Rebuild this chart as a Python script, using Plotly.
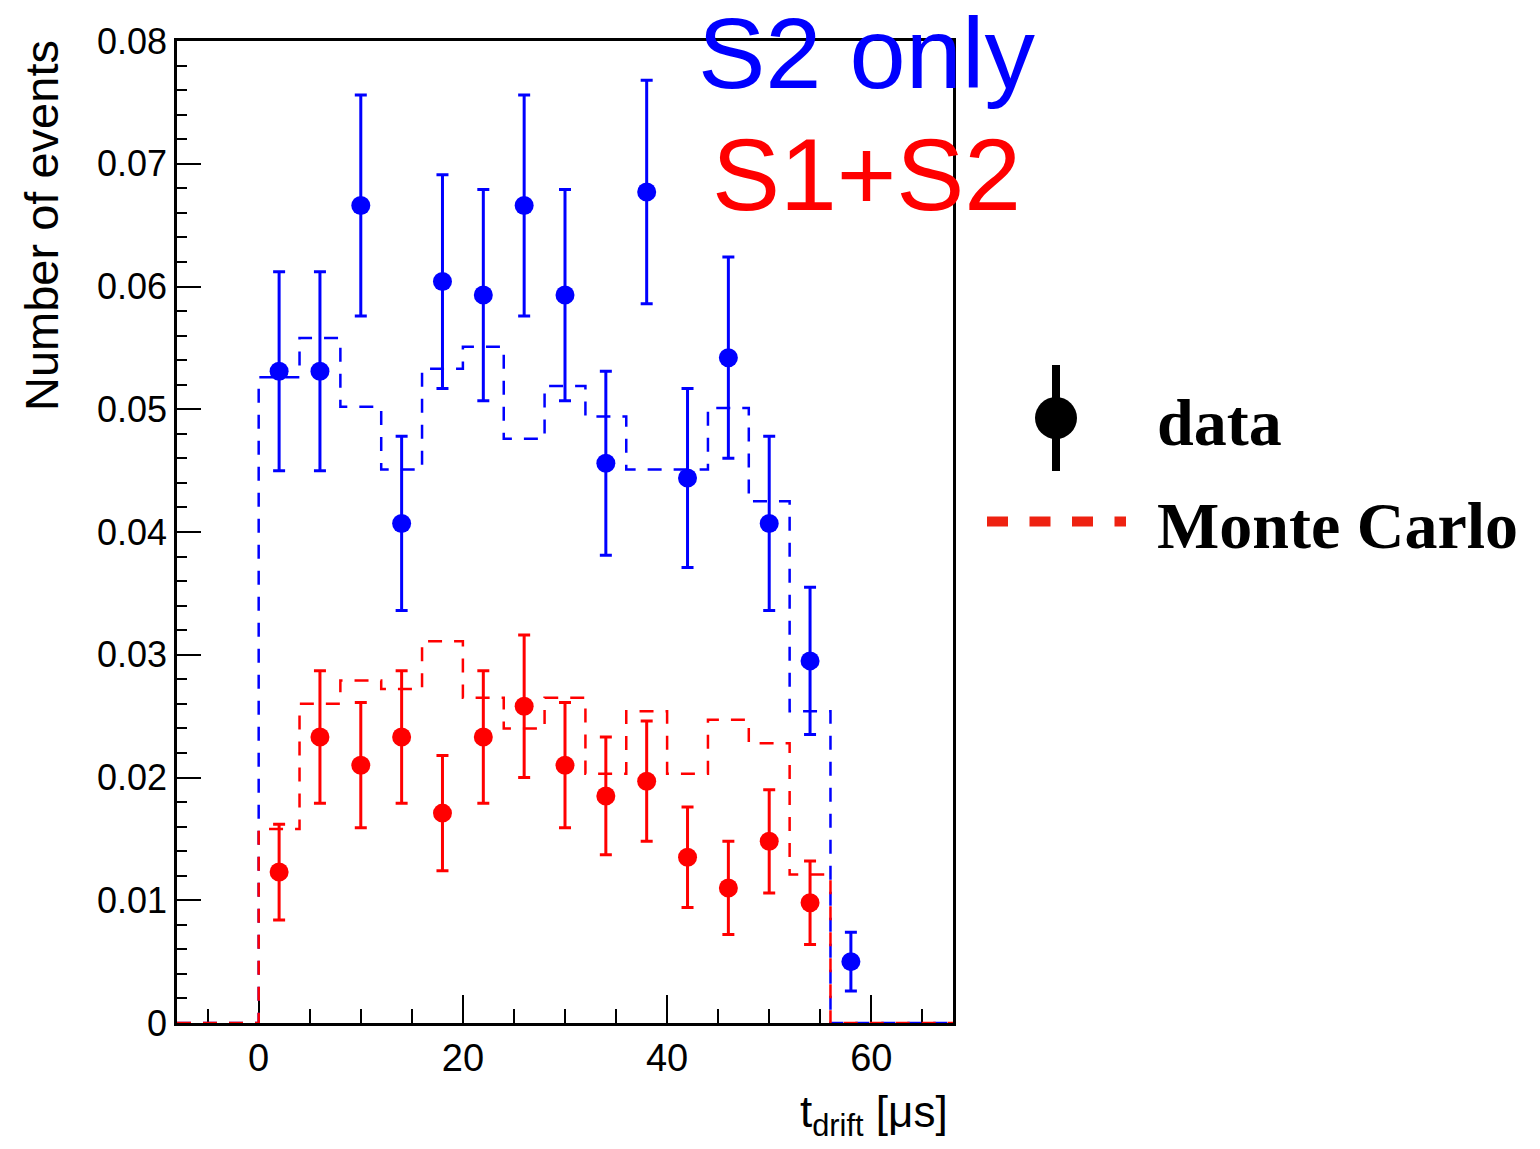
import plotly.graph_objects as go

# ---- drift-time spectra (4 us bins) ----
bin_edges = [0, 4, 8, 12, 16, 20, 24, 28, 32, 36, 40, 44, 48, 52, 56]
x_min, x_max = -8, 68

# measured data, bin centres
s2_centres = [2, 6, 10, 14, 18, 22, 26, 30, 34, 38, 42, 46, 50, 54, 58]
s2_data = [0.0531, 0.0531, 0.0666, 0.0407, 0.0604, 0.0593, 0.0666, 0.0593,
           0.0456, 0.0677, 0.0444, 0.0542, 0.0407, 0.0295, 0.0050]
s2_err = [0.0081, 0.0081, 0.0090, 0.0071, 0.0087, 0.0086, 0.0090, 0.0086,
          0.0075, 0.0091, 0.0073, 0.0082, 0.0071, 0.0060, 0.0024]

s1s2_centres = [2, 6, 10, 14, 18, 22, 26, 30, 34, 38, 42, 46, 50, 54]
s1s2_data = [0.0123, 0.0233, 0.0210, 0.0233, 0.0171, 0.0233, 0.0258, 0.0210,
             0.0185, 0.0197, 0.0135, 0.0110, 0.0148, 0.0098]
s1s2_err = [0.0039, 0.0054, 0.0051, 0.0054, 0.0047, 0.0054, 0.0058, 0.0051,
            0.0048, 0.0049, 0.0041, 0.0038, 0.0042, 0.0034]

# Monte Carlo histograms, one value per bin
s2_mc = [0.0526, 0.0558, 0.0502, 0.0451, 0.0533, 0.0551, 0.0476, 0.0519,
         0.0494, 0.0451, 0.0451, 0.0501, 0.0425, 0.0254]
s1s2_mc = [0.0158, 0.0260, 0.0279, 0.0272, 0.0311, 0.0265, 0.0240, 0.0265,
           0.0203, 0.0254, 0.0203, 0.0247, 0.0228, 0.0121]

BLUE = "#0000ff"
RED = "#ff0000"
W, H = 1540, 1149
SANS = "Liberation Sans, Arial, Helvetica, sans-serif"
SERIF = "Liberation Serif, Times New Roman, serif"


def px(x):
    return x / W


def py(y):
    return 1 - y / H


def step_xy(values):
    # histogram outline including the empty under/overflow stretches
    xs = [x_min] + bin_edges + [x_max]
    ys = [0] + list(values) + [0, 0]
    return xs, ys


fig = go.Figure()

for vals, col in ((s2_mc, BLUE), (s1s2_mc, RED)):
    xs, ys = step_xy(vals)
    fig.add_trace(go.Scatter(
        x=xs, y=ys, mode="lines", line_shape="hv",
        line=dict(color=col, width=2.5, dash="14px,12px"),
        showlegend=False, hoverinfo="skip"))

for cx, vals, errs, col in ((s1s2_centres, s1s2_data, s1s2_err, RED),
                            (s2_centres, s2_data, s2_err, BLUE)):
    fig.add_trace(go.Scatter(
        x=cx, y=vals, mode="markers",
        marker=dict(color=col, size=19, symbol="circle", line=dict(width=0)),
        error_y=dict(type="data", array=errs, visible=True,
                     color=col, thickness=3, width=6),
        showlegend=False))

axis_common = dict(
    showline=True, linecolor="black", linewidth=2.5, mirror=True,
    ticks="inside", tickcolor="black", tickwidth=2,
    showgrid=False, zeroline=False, automargin=False,
    layer="below traces",
)

fig.update_xaxes(
    range=[x_min, x_max], domain=[px(177), px(953)],
    tick0=0, dtick=20, ticklen=28,
    tickfont=dict(family=SANS, size=38, color="black"),
    minor=dict(ticks="inside", dtick=5, ticklen=14, tickcolor="black", tickwidth=2),
    **axis_common)
fig.update_yaxes(
    range=[0, 0.08], domain=[py(1023), py(41)],
    tick0=0, dtick=0.01, ticklen=24,
    tickfont=dict(family=SANS, size=36, color="black"),
    minor=dict(ticks="inside", dtick=0.002, ticklen=10, tickcolor="black", tickwidth=2),
    **axis_common)

annotations = [
    dict(text="Number of events", x=px(42), y=py(226), textangle=-90,
         font=dict(family=SANS, size=47, color="black")),
    dict(text="t<sub>drift</sub> [μs]", x=px(950), y=py(1115), xanchor="right",
         font=dict(family=SANS, size=44, color="black")),
    dict(text="S2 only", x=px(866.5), y=py(53),
         font=dict(family=SANS, size=101, color=BLUE)),
    dict(text="S1+S2", x=px(866.5), y=py(175),
         font=dict(family=SANS, size=102, color=RED)),
    dict(text="data", x=px(1155), y=py(422), xanchor="left",
         font=dict(family=SERIF, size=66, color="black", weight="bold")),
    dict(text="Monte Carlo", x=px(1155), y=py(525), xanchor="left",
         font=dict(family=SERIF, size=66, color="black", weight="bold")),
]
for a in annotations:
    a.setdefault("xanchor", "center")
    a.setdefault("yanchor", "middle")
    a.update(xref="paper", yref="paper", showarrow=False)

# legend glyphs
shapes = [
    dict(type="line", x0=px(1056), x1=px(1056), y0=py(365), y1=py(471),
         line=dict(color="black", width=8)),
    dict(type="circle", x0=px(1035), x1=px(1077), y0=py(439), y1=py(397),
         fillcolor="black", line=dict(color="black", width=0)),
    dict(type="line", x0=px(987), x1=px(1126), y0=py(521.5), y1=py(521.5),
         line=dict(color="#ee2211", width=10, dash="21px,21.5px")),
]
for s in shapes:
    s.update(xref="paper", yref="paper")

fig.update_layout(
    width=W, height=H,
    margin=dict(l=0, r=0, t=0, b=0, autoexpand=False),
    paper_bgcolor="white", plot_bgcolor="white",
    showlegend=False,
    annotations=annotations,
    shapes=shapes,
)

fig.write_html("out.html")
